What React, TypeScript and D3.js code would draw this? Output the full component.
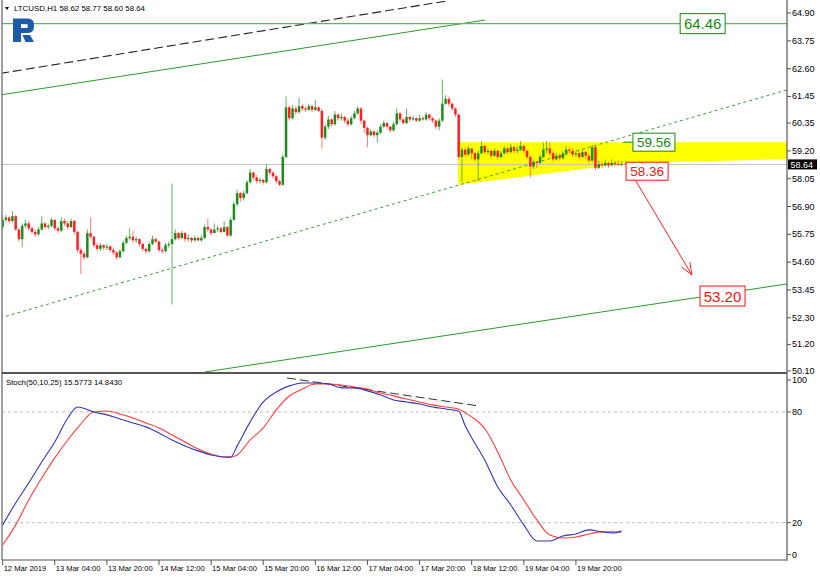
import React from 'react';
import * as d3 from 'd3';

// LTCUSD H1 candles (open of each bar = previous close)
const firstOpen = 56.05;
const closes = [
  56.35, 56.45, 56.30, 56.50, 55.95, 55.55, 56.10, 56.20, 56.00, 55.85,
  55.75, 55.95, 56.20, 56.05, 56.10, 56.35, 56.00, 55.90, 56.30, 56.20,
  56.05, 56.30, 55.85, 55.10, 54.95, 54.80, 55.80, 55.65, 55.30, 55.15,
  55.30, 55.20, 55.25, 55.10, 55.00, 54.80, 55.05, 55.40, 55.60, 55.65,
  55.50, 55.55, 55.35, 55.15, 55.05, 55.35, 55.55, 55.45, 55.10, 55.05,
  55.30, 55.35, 55.55, 55.80, 55.60, 55.80, 55.55, 55.60, 55.50, 55.60,
  55.50, 55.60, 56.05, 55.95, 55.80, 55.95, 56.00, 55.85, 56.05, 55.70,
  56.35, 57.00, 57.45, 57.25, 57.45, 57.90, 58.30, 58.10, 57.95, 58.00,
  57.90, 58.45, 58.30, 58.15, 57.95, 57.80, 58.95, 61.00, 60.55, 60.95,
  60.80, 61.05, 60.95, 60.90, 61.05, 60.90, 61.00, 60.85, 59.75, 60.20,
  60.50, 60.30, 60.70, 60.55, 60.60, 60.45, 60.30, 60.55, 60.75, 60.95,
  60.45, 60.15, 59.85, 60.00, 59.85, 59.95, 60.20, 60.35, 60.20, 60.05,
  60.30, 60.75, 60.50, 60.35, 60.60, 60.50, 60.55, 60.45, 60.55, 60.50,
  60.70, 60.55, 60.45, 60.20, 60.45, 61.15, 61.35, 61.15, 60.95, 60.70,
  58.95, 59.25, 59.05, 59.30, 59.10, 58.85, 59.10, 59.40, 59.15, 59.20,
  59.00, 59.20, 58.95, 59.10, 59.30, 59.15, 59.35, 59.20, 59.25, 59.40,
  59.20, 58.95, 58.55, 58.75, 58.70, 58.95, 59.25, 59.30, 59.10, 58.85,
  59.00, 58.90, 59.10, 59.25, 59.20, 59.05, 59.10, 58.95, 59.15, 59.00,
  58.80, 59.35, 58.50, 58.65, 58.60, 58.70, 58.60, 58.70, 58.65, 58.62,
  58.64,
];
const highs = [
  56.50, 56.55, 56.50, 56.70, 56.55, 56.00, 56.20, 56.35, 56.30, 56.10,
  55.95, 56.05, 56.50, 56.25, 56.20, 56.45, 56.35, 56.10, 56.45, 56.40,
  56.30, 56.40, 56.35, 55.90, 55.20, 55.05, 55.95, 56.45, 55.70, 55.40,
  55.40, 55.35, 55.35, 55.30, 55.20, 55.05, 55.15, 55.50, 55.70, 56.00,
  55.90, 55.65, 55.60, 55.40, 55.20, 55.45, 55.70, 55.60, 55.50, 55.20,
  55.40, 55.45, 57.85, 55.95, 55.85, 55.90, 55.85, 55.75, 55.65, 55.70,
  55.65, 55.70, 56.15, 56.40, 56.00, 56.20, 56.10, 56.05, 56.30, 56.10,
  56.45, 57.10, 57.60, 57.50, 57.55, 58.00, 58.45, 58.35, 58.20, 58.10,
  58.05, 58.65, 58.50, 58.35, 58.20, 58.00, 59.05, 61.45, 61.10, 61.10,
  61.05, 61.40, 61.15, 61.05, 61.15, 61.10, 61.30, 61.05, 60.95, 60.30,
  60.65, 60.55, 60.85, 60.75, 60.75, 60.65, 60.55, 60.65, 60.85, 61.05,
  61.00, 60.50, 60.20, 60.10, 60.05, 60.05, 60.30, 60.45, 60.40, 60.25,
  60.40, 60.95, 60.80, 60.55, 60.95, 60.65, 60.65, 60.60, 60.70, 60.65,
  60.80, 60.75, 60.60, 60.50, 60.55, 62.15, 61.50, 61.45, 61.20, 61.00,
  60.75, 59.35, 59.35, 59.40, 59.30, 59.15, 59.20, 59.60, 59.45, 59.30,
  59.25, 59.30, 59.25, 59.20, 59.40, 59.35, 59.50, 59.40, 59.40, 59.60,
  59.45, 59.25, 59.00, 58.85, 58.80, 59.05, 59.55, 59.60, 59.55, 59.20,
  59.10, 59.10, 59.20, 59.40, 59.35, 59.30, 59.20, 59.20, 59.25, 59.20,
  59.10, 59.45, 59.40, 58.80, 58.75, 58.85, 58.75, 58.85, 58.80, 58.80,
  58.77,
];
const lows = [
  55.95, 56.25, 56.20, 56.25, 55.90, 55.45, 55.20, 56.00, 55.90, 55.75,
  55.65, 55.70, 55.90, 55.95, 55.95, 56.05, 55.90, 55.80, 55.85, 56.10,
  55.95, 56.00, 55.75, 55.00, 54.10, 54.70, 54.75, 55.55, 55.20, 55.05,
  55.05, 55.10, 55.10, 55.00, 54.90, 54.70, 54.75, 55.00, 55.35, 55.50,
  55.40, 55.40, 55.25, 55.05, 54.95, 55.00, 55.30, 55.40, 55.00, 54.95,
  55.00, 55.20, 52.85, 55.50, 55.50, 55.55, 55.45, 55.45, 55.40, 55.45,
  55.45, 55.45, 55.55, 55.85, 55.70, 55.80, 55.85, 55.80, 55.85, 55.65,
  55.65, 56.30, 56.90, 57.10, 57.15, 57.40, 57.85, 58.00, 57.85, 57.85,
  57.80, 57.85, 58.20, 58.05, 57.85, 57.75, 57.75, 58.90, 60.45, 60.50,
  60.70, 60.75, 60.85, 60.80, 60.85, 60.80, 60.85, 60.80, 59.30, 59.65,
  60.10, 60.20, 60.25, 60.45, 60.45, 60.35, 60.20, 60.25, 60.50, 60.70,
  60.30, 59.95, 59.35, 59.80, 59.75, 59.55, 59.90, 60.15, 60.10, 59.95,
  60.00, 60.25, 60.40, 60.30, 60.30, 60.40, 60.45, 60.40, 60.40, 60.45,
  60.45, 60.45, 60.35, 60.10, 60.05, 60.40, 61.10, 61.05, 60.85, 60.60,
  58.85, 57.90, 58.95, 59.00, 58.85, 58.75, 57.95, 59.05, 59.05, 59.05,
  58.90, 58.95, 58.85, 58.90, 59.05, 59.05, 59.10, 59.10, 59.10, 59.20,
  59.10, 58.85, 58.10, 58.45, 58.50, 58.65, 58.90, 59.10, 59.00, 58.75,
  58.80, 58.80, 58.85, 59.00, 59.10, 58.95, 58.95, 58.85, 58.90, 58.85,
  58.70, 58.75, 58.40, 58.45, 58.50, 58.55, 58.50, 58.55, 58.55, 58.60,
  58.60,
];

const timeLabels = [
  '12 Mar 2019', '13 Mar 04:00', '13 Mar 20:00', '14 Mar 12:00', '15 Mar 04:00', '15 Mar 20:00',
  '16 Mar 12:00', '17 Mar 04:00', '17 Mar 20:00', '18 Mar 12:00', '19 Mar 04:00', '19 Mar 20:00',
];
const barsPerLabel = 16;
const priceTicks = [64.9, 63.75, 62.6, 61.45, 60.35, 59.2, 58.05, 56.9, 55.75, 54.6, 53.45, 52.3, 51.2, 50.1];
const lastPrice = 58.64;

// Stochastic(50,10,25): main and signal, read every few bars
const stochIdx = [0, 4, 8, 12, 16, 20, 23, 28, 32, 36, 40, 44, 48, 52, 56, 60, 64, 68, 70, 72, 76, 80, 84, 88, 92, 96, 100, 104, 108, 112, 116, 120, 124, 128, 132, 136, 140, 142, 144, 148, 152, 156, 160, 164, 168, 172, 176, 180, 184, 188, 190];
const stochMain = [18.8, 30.7, 41.5, 52.9, 63.7, 76.7, 82.7, 80.0, 78.4, 76.2, 74.0, 71.9, 68.6, 64.8, 61.6, 58.9, 56.7, 55.6, 55.5, 61.6, 74.6, 85.4, 90.8, 94.1, 95.7, 95.7, 95.2, 93.0, 93.0, 91.4, 89.2, 86.5, 85.4, 84.3, 82.7, 81.6, 80.5, 72.5, 66.0, 54.0, 39.3, 29.6, 18.8, 10.1, 10.1, 12.8, 13.9, 16.1, 15.0, 14.4, 15.6];
const stochSignal = [7.9, 18.8, 32.3, 44.2, 55.1, 64.8, 71.3, 80.0, 80.5, 78.9, 76.7, 74.0, 71.3, 67.5, 63.7, 59.9, 57.2, 55.6, 55.6, 56.7, 64.8, 71.3, 81.1, 88.6, 92.4, 95.1, 95.1, 94.6, 93.5, 92.4, 90.2, 88.7, 87.0, 85.4, 83.8, 82.7, 81.6, 79.5, 77.3, 71.0, 58.3, 43.1, 32.3, 21.5, 13.3, 11.7, 12.2, 13.9, 15.0, 15.0, 14.8];
const stochTicks = [100, 80, 20, 0];
const stochLevels = [80, 20];

// analysis objects: [bar, price] end points
const blackDashed = [[-0.8, 62.4], [137.4, 65.42]];
const greenUpper = [[-0.8, 61.51], [148.1, 64.61]];
const greenDotted = [[-0.8, 52.29], [240.8, 61.72]];
const greenLower = [[62.1, 50.06], [240.8, 53.7]];
const level6446 = 64.46;
const yellowZone = [[139.8, 59.56], [240.8, 59.56], [240.8, 58.86], [192.6, 58.7], [139.8, 57.79]];
const redArrow = [[191.1, 58.7], [211.6, 54.07]];
const stochDashed = [[87.3, 98.4], [145.9, 83.3]];
const priceBoxes = [
  { bar: 208, price: 64.46, text: '64.46', kind: 'up', big: true },
  { bar: 193.5, price: 59.56, text: '59.56', kind: 'up', big: false },
  { bar: 191.4, price: 58.36, text: '58.36', kind: 'down', big: false },
  { bar: 214.1, price: 53.2, text: '53.20', kind: 'down', big: true },
];

const W = 820;
const H = 577;
const left = 2;
const right = 787;
const mainTop = 1;
const mainBottom = 372;
const stTop = 375;
const stBottom = 560;
const font = '"Liberation Sans", Arial, sans-serif';

const App: React.FC = () => {
  const nBars = closes.length;
  const x = d3.scaleLinear().domain([-0.2, 240.8]).range([left, right]);
  const y = d3.scaleLinear().domain([50.1, 64.9]).range([371, 13]);
  const ys = d3.scaleLinear().domain([0, 100]).range([559.6, 375]);

  const candles = d3.range(nBars).map((i) => {
    const o = i === 0 ? firstOpen : closes[i - 1];
    const c = closes[i];
    return { i, o, c, h: Math.max(highs[i], o, c), l: Math.min(lows[i], o, c) };
  });

  const stLine = (vals: number[]) =>
    d3.line<number>()
      .x((_, k) => x(stochIdx[k]))
      .y((v) => ys(v))
      .curve(d3.curveMonotoneX)(vals) || '';

  const seg = (p: number[][]) => ({ x1: x(p[0][0]), y1: y(p[0][1]), x2: x(p[1][0]), y2: y(p[1][1]) });

  const yellowPath = d3.line<number[]>().x((d) => x(d[0])).y((d) => y(d[1]))(yellowZone) + 'Z';

  const arrow = seg(redArrow);
  const ang = Math.atan2(arrow.y2 - arrow.y1, arrow.x2 - arrow.x1);
  const headLen = 13;
  const head = [ang + Math.PI - 0.38, ang + Math.PI + 0.38].map((a) => [
    arrow.x2 + headLen * Math.cos(a),
    arrow.y2 + headLen * Math.sin(a),
  ]);

  const green = '#1a8f1a';
  const red = '#ff1f1f';

  return (
    <svg width={W} height={H} style={{ position: 'fixed', left: 0, top: 0, background: '#fff' }} fontFamily={font}>
      <defs>
        <clipPath id="mainClip">
          <rect x={left} y={mainTop} width={right - left} height={mainBottom - mainTop} />
        </clipPath>
        <clipPath id="stClip">
          <rect x={left} y={stTop} width={right - left} height={stBottom - stTop} />
        </clipPath>
      </defs>
      <rect width={W} height={H} fill="#fff" />

      {/* main panel */}
      <g clipPath="url(#mainClip)">
        <path d={yellowPath} fill="#ffff00" />
        <line x1={left} x2={right} y1={y(lastPrice)} y2={y(lastPrice)} stroke="#c0c0c0" strokeWidth={1} />
        <line {...seg(blackDashed)} stroke="#222" strokeWidth={1.1} strokeDasharray="9,4" />
        <line {...seg(greenUpper)} stroke="#2a9a2a" strokeWidth={1} />
        <line {...seg(greenDotted)} stroke="#3a9a3a" strokeWidth={1} strokeDasharray="3,3" />
        <line {...seg(greenLower)} stroke="#2a9a2a" strokeWidth={1} />
        <line x1={left} x2={right} y1={y(level6446)} y2={y(level6446)} stroke="#5cb85c" strokeWidth={1.2} />

        {candles.map((d) => {
          const up = d.c >= d.o;
          const col = up ? green : red;
          const top = y(Math.max(d.o, d.c));
          const bot = y(Math.min(d.o, d.c));
          return (
            <g key={d.i}>
              <line x1={x(d.i)} x2={x(d.i)} y1={y(d.h)} y2={y(d.l)} stroke={up ? '#3c9c3c' : '#ff5a5a'} strokeOpacity={0.8} strokeWidth={1} />
              <rect x={x(d.i) - 1.25} y={top} width={2.5} height={Math.max(1, bot - top)} fill={col} />
            </g>
          );
        })}

        <line x1={x(190.5)} x2={x(193.5)} y1={y(59.56)} y2={y(59.56)} stroke="#138a13" strokeWidth={1} />
        <line {...arrow} stroke={red} strokeWidth={1} />
        {head.map((p, k) => (
          <line key={k} x1={arrow.x2} y1={arrow.y2} x2={p[0]} y2={p[1]} stroke={red} strokeWidth={1} />
        ))}

        {priceBoxes.map((b) => {
          const col = b.kind === 'up' ? '#138a13' : '#ff1010';
          const w = b.big ? 45 : 42;
          const h = b.big ? 20 : 18;
          const bx = x(b.bar);
          const by = y(b.price);
          return (
            <g key={b.text}>
              <rect x={bx} y={by - h / 2} width={w} height={h} fill="#fff" stroke={col} strokeWidth={1} />
              <text x={bx + w / 2} y={by + (b.big ? 5.5 : 5)} textAnchor="middle" fontSize={b.big ? 15 : 13.5} fill={col}>
                {b.text}
              </text>
            </g>
          );
        })}
      </g>

      {/* header and logo */}
      <path d="M5,7 L9,7 L7,10 Z" fill="#000" />
      <text x={14} y={10.8} fontSize={7.9} fill="#000">
        {'LTCUSD,H1  58.62 58.77 58.60 58.64'}
      </text>
      <g fill="#1f5aa8">
        <path
          fillRule="evenodd"
          d="M13,18.5 H28 Q34,18.5 34,25 V26.5 Q34,33 28,33 H21 V42 H13 Z M21,24 H26.5 Q27.8,24 27.8,25.3 V26.7 Q27.8,28 26.5,28 H21 Z"
        />
        <path d="M22.5,35 H30 L34,42 H25.5 Z" />
      </g>

      {/* stochastic panel */}
      <g clipPath="url(#stClip)">
        {stochLevels.map((v) => (
          <line key={v} x1={left} x2={right} y1={ys(v)} y2={ys(v)} stroke="#bdbdbd" strokeWidth={1} strokeDasharray="3,3" />
        ))}
        <line {...{
          x1: x(stochDashed[0][0]), y1: ys(stochDashed[0][1]),
          x2: x(stochDashed[1][0]), y2: ys(stochDashed[1][1]),
        }} stroke="#333" strokeWidth={1} strokeDasharray="9,4" />
        <path d={stLine(stochSignal)} fill="none" stroke="#ff3b3b" strokeWidth={1.1} />
        <path d={stLine(stochMain)} fill="none" stroke="#3535b0" strokeWidth={1.1} />
      </g>
      <text x={6} y={384.5} fontSize={7.8} fill="#000">
        {'Stoch(50,10,25) 15.5773 14.8430'}
      </text>

      {/* frames */}
      <line x1={left} x2={left} y1={0} y2={stBottom} stroke="#808080" strokeWidth={1.5} />
      <line x1={right} x2={right} y1={0} y2={stBottom + 0.5} stroke="#555" strokeWidth={1.2} />
      <line x1={left} x2={right} y1={373} y2={373} stroke="#555" strokeWidth={2} />
      <line x1={left} x2={right} y1={stBottom} y2={stBottom} stroke="#555" strokeWidth={1.2} />

      {/* price axis */}
      {priceTicks.map((p) => (
        <g key={p}>
          <line x1={right} x2={right + 4} y1={y(p)} y2={y(p)} stroke="#555" />
          <text x={right + 5} y={y(p) + 3} fontSize={9} fill="#000">
            {p.toFixed(2)}
          </text>
        </g>
      ))}
      <rect x={right + 1} y={y(lastPrice) - 5} width={29} height={10} fill="#000" />
      <text x={right + 3.5} y={y(lastPrice) + 3.2} fontSize={9} fill="#fff">
        {lastPrice.toFixed(2)}
      </text>

      {/* stochastic axis */}
      {stochTicks.map((v) => {
        const off = v === 100 ? 5 : v === 0 ? -5 : 0;
        return (
          <g key={v}>
            <line x1={right} x2={right + 4} y1={ys(v) + off} y2={ys(v) + off} stroke="#555" />
            <text x={right + 5} y={ys(v) + off + 3} fontSize={9} fill="#000">
              {v}
            </text>
          </g>
        );
      })}

      {/* time axis */}
      {timeLabels.map((t, k) => {
        const tx = x(k * barsPerLabel);
        return (
          <g key={t}>
            <line x1={tx} x2={tx} y1={stBottom} y2={stBottom + 5} stroke="#555" />
            <text x={tx + 1} y={570.5} fontSize={7.6} fill="#000">
              {t}
            </text>
          </g>
        );
      })}
    </svg>
  );
};

export default App;
